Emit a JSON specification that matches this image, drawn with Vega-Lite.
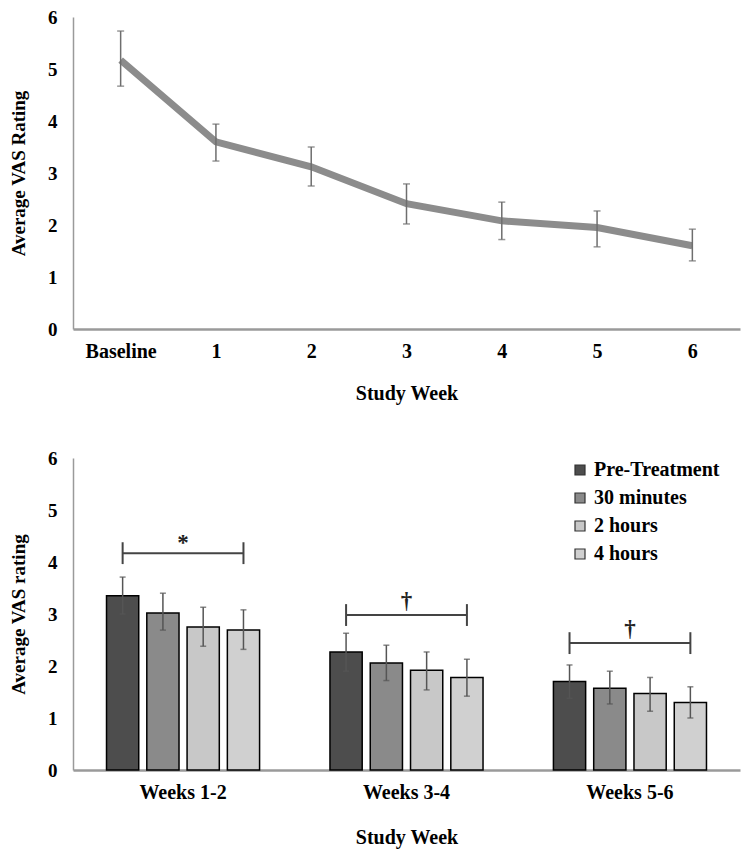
{
  "$schema": "https://vega.github.io/schema/vega-lite/v6.json",
  "padding": {"left": 9, "top": 8, "right": 5, "bottom": 5},
  "background": "white",
  "config": {
    "view": {"stroke": null},
    "font": "Liberation Serif",
    "axis": {"labelFont": "Liberation Serif", "titleFont": "Liberation Serif", "labelFontWeight": "bold", "titleFontWeight": "bold", "labelColor": "black", "titleColor": "black", "grid": false, "ticks": false, "domainColor": "#9a9a9a", "domainWidth": 1.5},
    "axisY": {"labelFontSize": 19, "titleFontSize": 19, "labelPadding": 16, "titlePadding": 19, "tickCount": 6},
    "axisX": {"labelFontSize": 20, "titleFontSize": 20, "labelPadding": 12, "labelAngle": 0, "domainWidth": 2.5},
    "legend": {"labelFont": "Liberation Serif"}
  },
  "resolve": {"scale": {"fill": "independent"}, "legend": {"fill": "independent"}},
  "datasets": {
    "weekly": [
      {"week": "Baseline", "mean": 5.17, "lo": 4.67, "hi": 5.73},
      {"week": "1", "mean": 3.6, "lo": 3.23, "hi": 3.94},
      {"week": "2", "mean": 3.12, "lo": 2.75, "hi": 3.5},
      {"week": "3", "mean": 2.41, "lo": 2.02, "hi": 2.79},
      {"week": "4", "mean": 2.08, "lo": 1.72, "hi": 2.44},
      {"week": "5", "mean": 1.95, "lo": 1.58, "hi": 2.27},
      {"week": "6", "mean": 1.6, "lo": 1.31, "hi": 1.92}
    ],
    "groups": [
      {"group": "Weeks 1-2", "condition": "Pre-Treatment", "mean": 3.35, "lo": 3.0, "hi": 3.71},
      {"group": "Weeks 1-2", "condition": "30 minutes", "mean": 3.02, "lo": 2.69, "hi": 3.4},
      {"group": "Weeks 1-2", "condition": "2 hours", "mean": 2.75, "lo": 2.38, "hi": 3.13},
      {"group": "Weeks 1-2", "condition": "4 hours", "mean": 2.69, "lo": 2.32, "hi": 3.08},
      {"group": "Weeks 3-4", "condition": "Pre-Treatment", "mean": 2.27, "lo": 1.9, "hi": 2.63},
      {"group": "Weeks 3-4", "condition": "30 minutes", "mean": 2.06, "lo": 1.72, "hi": 2.4},
      {"group": "Weeks 3-4", "condition": "2 hours", "mean": 1.92, "lo": 1.54, "hi": 2.27},
      {"group": "Weeks 3-4", "condition": "4 hours", "mean": 1.78, "lo": 1.42, "hi": 2.13},
      {"group": "Weeks 5-6", "condition": "Pre-Treatment", "mean": 1.7, "lo": 1.38, "hi": 2.02},
      {"group": "Weeks 5-6", "condition": "30 minutes", "mean": 1.57, "lo": 1.27, "hi": 1.9},
      {"group": "Weeks 5-6", "condition": "2 hours", "mean": 1.47, "lo": 1.13, "hi": 1.78},
      {"group": "Weeks 5-6", "condition": "4 hours", "mean": 1.3, "lo": 1.0, "hi": 1.6}
    ],
    "brackets": [
      {"group": "Weeks 1-2", "condition": "Pre-Treatment", "y": 4.17, "ylo": 3.96, "yhi": 4.38},
      {"group": "Weeks 1-2", "condition": "4 hours", "y": 4.17, "ylo": 3.96, "yhi": 4.38},
      {"group": "Weeks 3-4", "condition": "Pre-Treatment", "y": 2.98, "ylo": 2.77, "yhi": 3.19},
      {"group": "Weeks 3-4", "condition": "4 hours", "y": 2.98, "ylo": 2.77, "yhi": 3.19},
      {"group": "Weeks 5-6", "condition": "Pre-Treatment", "y": 2.44, "ylo": 2.23, "yhi": 2.65},
      {"group": "Weeks 5-6", "condition": "4 hours", "y": 2.44, "ylo": 2.23, "yhi": 2.65}
    ],
    "symbols": [
      {"group": "Weeks 1-2", "y": 4.36, "label": "*"},
      {"group": "Weeks 3-4", "y": 3.25, "label": "†"},
      {"group": "Weeks 5-6", "y": 2.71, "label": "†"}
    ]
  },
  "vconcat": [
    {
      "width": 667,
      "height": 312,
      "data": {"name": "weekly"},
      "encoding": {
        "x": {"field": "week", "type": "ordinal", "sort": null, "scale": {"type": "point", "padding": 0.5},
          "axis": {"title": "Study Week", "titlePadding": 22}}
      },
      "layer": [
        {
          "mark": {"type": "line", "color": "#8c8c8c", "strokeWidth": 7},
          "encoding": {"y": {"field": "mean", "type": "quantitative", "scale": {"domain": [0, 6]},
            "axis": {"title": "Average VAS Rating"}}}
        },
        {
          "mark": {"type": "rule", "color": "#6e6e6e", "strokeWidth": 1.5},
          "encoding": {"y": {"field": "lo", "type": "quantitative"}, "y2": {"field": "hi"}}
        },
        {
          "mark": {"type": "tick", "color": "#6e6e6e", "thickness": 1.5, "size": 7},
          "encoding": {"y": {"field": "lo", "type": "quantitative"}}
        },
        {
          "mark": {"type": "tick", "color": "#6e6e6e", "thickness": 1.5, "size": 7},
          "encoding": {"y": {"field": "hi", "type": "quantitative"}}
        }
      ]
    },
    {
      "width": 667,
      "height": 312,
      "encoding": {
        "x": {"field": "group", "type": "nominal", "sort": null, "scale": {"paddingInner": 0.315, "paddingOuter": 0.15},
          "axis": {"title": "Study Week", "titlePadding": 25}}
      },
      "layer": [
        {
          "data": {"name": "groups"},
          "mark": {"type": "bar", "stroke": "black", "strokeWidth": 1.5},
          "encoding": {
            "xOffset": {"field": "condition", "type": "nominal", "scale": {"domain": ["Pre-Treatment", "30 minutes", "2 hours", "4 hours"], "paddingInner": 0.2, "paddingOuter": 0}},
            "y": {"field": "mean", "type": "quantitative", "scale": {"domain": [0, 6]},
              "axis": {"title": "Average VAS rating"}},
            "fill": {"field": "condition", "type": "nominal",
              "scale": {"domain": ["Pre-Treatment", "30 minutes", "2 hours", "4 hours"], "range": ["#4d4d4d", "#8a8a8a", "#c8c8c8", "#d0d0d0"]},
              "legend": {"title": null, "orient": "none", "legendX": 497, "legendY": 2, "symbolType": "square", "symbolSize": 100, "symbolStrokeColor": "#333333", "symbolStrokeWidth": 1.2, "labelFontSize": 20, "labelFontWeight": "bold", "rowPadding": 8, "labelOffset": 4}}
          }
        },
        {
          "data": {"name": "groups"},
          "mark": {"type": "rule", "color": "#555555", "strokeWidth": 1.5},
          "encoding": {
            "xOffset": {"field": "condition", "type": "nominal"},
            "y": {"field": "lo", "type": "quantitative"}, "y2": {"field": "hi"}
          }
        },
        {
          "data": {"name": "groups"},
          "mark": {"type": "tick", "color": "#555555", "thickness": 1.5, "size": 6},
          "encoding": {"xOffset": {"field": "condition", "type": "nominal"}, "y": {"field": "hi", "type": "quantitative"}}
        },
        {
          "data": {"name": "groups"},
          "mark": {"type": "tick", "color": "#555555", "thickness": 1.5, "size": 6},
          "encoding": {"xOffset": {"field": "condition", "type": "nominal"}, "y": {"field": "lo", "type": "quantitative"}}
        },
        {
          "data": {"name": "brackets"},
          "mark": {"type": "line", "color": "#444444", "strokeWidth": 2},
          "encoding": {
            "xOffset": {"field": "condition", "type": "nominal"},
            "y": {"field": "y", "type": "quantitative"},
            "detail": {"field": "group"}
          }
        },
        {
          "data": {"name": "brackets"},
          "mark": {"type": "rule", "color": "#444444", "strokeWidth": 2},
          "encoding": {
            "xOffset": {"field": "condition", "type": "nominal"},
            "y": {"field": "ylo", "type": "quantitative"}, "y2": {"field": "yhi"}
          }
        },
        {
          "data": {"name": "symbols"},
          "mark": {"type": "text", "font": "Liberation Serif", "fontWeight": "bold", "fontSize": 23, "color": "#222222", "baseline": "middle"},
          "encoding": {
            "y": {"field": "y", "type": "quantitative"},
            "text": {"field": "label"}
          }
        }
      ]
    }
  ],
  "spacing": 46
}
